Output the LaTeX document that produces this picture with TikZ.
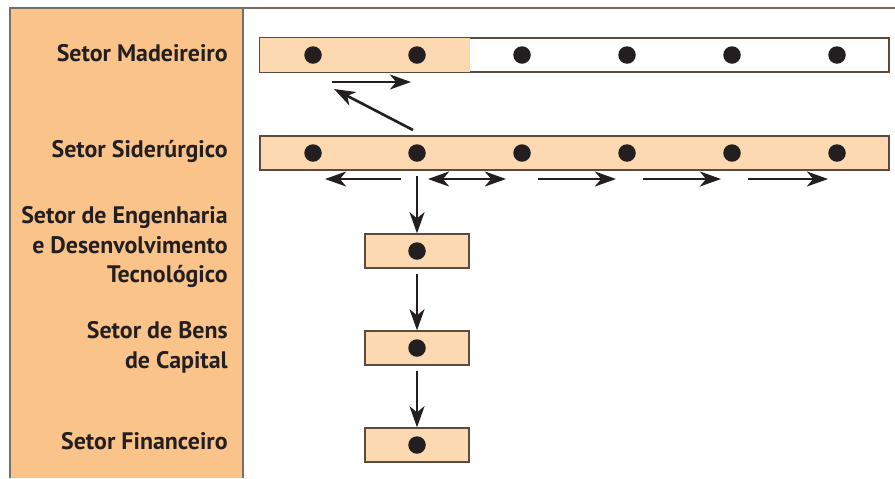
\documentclass[tikz,border=0pt]{standalone}
\usepackage{fontspec}
\setmainfont{PT Sans}
\usetikzlibrary{arrows.meta, positioning}

\definecolor{painel}{HTML}{F9C38A}
\definecolor{caixa}{HTML}{FCD9B0}
\definecolor{borda}{HTML}{5A4B3E}
\definecolor{tinta}{HTML}{231F20}

\tikzset{
  barra/.style={draw=borda, line width=0.8pt, fill=caixa, minimum width=12.58cm, minimum height=0.68cm, inner sep=0pt},
  caixinha/.style={draw=borda, line width=0.8pt, fill=caixa, minimum width=2.08cm, minimum height=0.68cm, inner sep=0pt},
  ponto/.style={circle, fill=tinta, minimum size=0.35cm, inner sep=0pt},
  rotulo/.style={anchor=east, align=right, inner sep=0pt, font=\bfseries\fontsize{13.6}{17}\selectfont, text=tinta},
  ponta/.tip={Stealth[length=12pt, width=8.5pt, inset=3.5pt]},
  seta/.style={-ponta, line width=1.5pt, draw=tinta},
}

\begin{document}
\begin{tikzpicture}[x=0.02cm, y=-0.02cm]
        \useasboundingbox (0,0) rectangle (895,478);
        % painel da esquerda
        \fill[painel] (10,8) rectangle (243,478);
        \draw[borda!80, line width=1pt] (10,478) -- (10,8) -- (895,8);
        \draw[borda!80, line width=1pt] (243,8) -- (243,478);

        % rotulos
        \node[rotulo] (lmad) at (228,53) {Setor Madeireiro};
        \node[rotulo] (lsid) at (228,151) {Setor Siderúrgico};
        \node[rotulo] (leng) at (228,247) {Setor de Engenharia\\e Desenvolvimento\\Tecnológico};
        \node[rotulo] (lben) at (228,347) {Setor de Bens\\de Capital};
        \node[rotulo] (lfin) at (228,441) {Setor Financeiro};

        % barras
        \node[barra, fill=white] (mad) at (574.5,55) {};
        \fill[caixa] ([xshift=0.4pt, yshift=-0.4pt]mad.north west) rectangle (470,71.6);
        \node[barra] (sid) at (574.5,153) {};
        \node[caixinha] (eng) at (417,251) {};
        \node[caixinha] (ben) at (417,348) {};
        \node[caixinha] (fin) at (417,445) {};

        \foreach \i/\x in {1/313, 2/417, 3/522, 4/627, 5/732, 6/837} {
            \node[ponto] (m\i) at (\x,55) {};
            \node[ponto] (s\i) at (\x,153) {};
        }
        \node[ponto] (e) at (eng) {};
        \node[ponto] (b) at (ben) {};
        \node[ponto] (f) at (fin) {};

        % setas
        \coordinate (ma) at (332,82);
        \coordinate (mb) at (411,82);
        \coordinate (da) at (413,130);
        \coordinate (db) at (334,89);
        \draw[seta] (ma) -- (mb);
        \draw[seta] (da) -- (db);

        \coordinate (sa) at (401,179);
        \coordinate (sb) at (325,179);
        \coordinate (sc) at (428,179);
        \coordinate (sd) at (506,179);
        \draw[seta] (sa) -- (sb);
        \draw[seta, ponta-ponta] (sc) -- (sd);
        \foreach \a/\b in {538/616, 643/721, 748/828} {
            \coordinate (p\a) at (\a,179);
            \coordinate (q\a) at (\b,179);
            \draw[seta] (p\a) -- (q\a);
        }

        \draw[seta] ([yshift=-3pt]sid.south -| s2) -- (eng.north);
        \draw[seta] ([yshift=-3pt]eng.south) -- (ben.north);
        \draw[seta] ([yshift=-3pt]ben.south) -- (fin.north);
    \end{tikzpicture}
\end{document}
